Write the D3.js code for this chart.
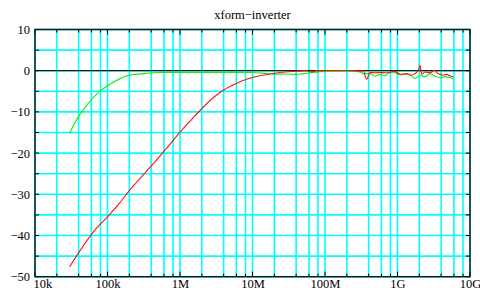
<!DOCTYPE html>
<html>
<head>
<meta charset="utf-8">
<script src="https://cdn.jsdelivr.net/npm/d3@7"></script>
<style>
  body { margin: 0; background: #fff; }
  svg text { font-family: "Liberation Serif", "Times New Roman", Times, serif; font-size: 12.5px; fill: #000; }
</style>
</head>
<body>
<svg id="chart" width="480" height="291"></svg>
<script>
// chart values
const title = "xform\u2212inverter";
const xDecades = [1e4, 1e5, 1e6, 1e7, 1e8, 1e9, 1e10];
const xTickLabels = ["10k", "100k", "1M", "10M", "100M", "1G", "10G"];
const yTickValues = [10, 0, -10, -20, -30, -40, -50];

const redFreq = [3.0e4, 4.2e4, 6.4e4, 9.7e4, 1.41e5, 2.0e5, 3.0e5, 5.0e5, 7.0e5, 1.0e6,
  1.45e6, 1.9e6, 2.9e6, 4.0e6, 6.0e6, 8.3e6, 1.4e7, 2.4e7, 4.0e7, 5.5e7,
  6.4e7, 7.5e7, 1.2e8, 2.0e8, 3.04e8, 3.37e8, 3.76e8, 4.18e8, 4.9e8, 5.74e8,
  6.73e8, 7.89e8, 8.75e8, 1.03e9, 1.1e9, 1.34e9, 1.49e9, 1.74e9, 1.94e9, 2.04e9,
  2.16e9, 2.39e9, 2.81e9, 3.29e9, 3.47e9, 3.85e9, 4.28e9, 4.76e9, 5.29e9, 5.89e9];
const redDb = [-47.6, -43.6, -39.1, -35.7, -32.5, -29.1, -25.6, -21.2, -18.2, -14.9,
  -11.8, -9.6, -6.5, -4.7, -3.1, -2.1, -1.1, -0.45, -0.15, 0.0,
  -0.3, -0.05, 0.05, 0.05, -0.1, -0.05, -2.1, -0.45, -0.5, -0.45,
  -0.5, -0.45, -0.1, -0.6, -1.0, -0.7, -1.1, -0.7, 0.1, 1.3,
  -0.85, -0.3, -0.5, 0.1, -0.45, -0.85, -1.1, -0.9, -1.25, -1.6];

const greenFreq = [3.0e4, 3.96e4, 5.16e4, 6.37e4, 7.88e4, 1.08e5, 1.84e5, 3.12e5, 5.3e5, 1e6,
  3e6, 1e7, 1.5e7, 2.0e7, 3.0e7, 4.0e7, 5.0e7, 6.4e7, 8.0e7, 1.2e8,
  2.0e8, 3.04e8, 3.37e8, 3.76e8, 4.18e8, 4.9e8, 5.74e8, 6.73e8, 7.89e8, 9.25e8,
  1.03e9, 1.27e9, 1.49e9, 1.74e9, 2.04e9, 2.39e9, 2.81e9, 3.29e9, 3.85e9, 4.51e9,
  5.29e9, 5.89e9];
const greenDb = [-15.1, -11.2, -8.4, -6.5, -5.0, -3.3, -1.25, -0.7, -0.45, -0.4,
  -0.4, -0.45, -0.65, -0.85, -0.8, -0.9, -0.7, -0.5, -0.3, -0.1,
  -0.05, -0.3, -0.7, -0.7, -0.7, -1.35, -0.9, -1.2, -0.3, -0.5,
  -0.9, -0.7, -0.9, -1.9, -1.1, -1.5, -0.7, -1.35, -1.65, -1.5,
  -1.65, -2.1];

const fontFamily = '"Liberation Serif", "Times New Roman", Times, serif';

const margin = { top: 29.5, right: 10, bottom: 14.3, left: 35 },
    width = 480 - margin.left - margin.right,
    height = 291 - margin.top - margin.bottom;

const svg = d3.select("#chart");
const g = svg.append("g").attr("transform", `translate(${margin.left}, ${margin.top})`);

const x = d3.scaleLog().domain([1e4, 1e10]).range([0, width]);
const y = d3.scaleLinear().domain([-50, 10]).range([height, 0]);

// grid: 1,2,4,6,8 per decade, every 5 on y
const xGrid = x.ticks().filter(t => {
  const m = Math.round(t / Math.pow(10, Math.floor(Math.log10(t) + 1e-9)));
  return [1, 2, 4, 6, 8].includes(m);
});
const xMinor = xGrid.filter(t => !xDecades.includes(t));

g.append("g").selectAll("line").data(xGrid).join("line")
    .attr("x1", d => x(d)).attr("x2", d => x(d))
    .attr("y1", 0).attr("y2", height)
    .attr("stroke", "#00ffff").attr("stroke-width", 1.6);
g.append("g").selectAll("line").data(y.ticks(12)).join("line")
    .attr("x1", 0).attr("x2", width)
    .attr("y1", d => y(d)).attr("y2", d => y(d))
    .attr("stroke", "#00ffff").attr("stroke-width", 1.6);

// zero line
g.append("line")
    .attr("x1", 0).attr("x2", width)
    .attr("y1", y(0)).attr("y2", y(0))
    .attr("stroke", "#0b1f1f").attr("stroke-width", 1.3);

// inward ticks, top and bottom
function xTicks(sel, vals, len) {
  sel.selectAll(null).data(vals).enter().append("line")
      .attr("x1", d => x(d)).attr("x2", d => x(d))
      .attr("y1", height).attr("y2", height - len)
      .attr("stroke", "#000").attr("stroke-width", 1);
  sel.selectAll(null).data(vals).enter().append("line")
      .attr("x1", d => x(d)).attr("x2", d => x(d))
      .attr("y1", 0).attr("y2", len)
      .attr("stroke", "#000").attr("stroke-width", 1);
}
const tg = g.append("g");
xTicks(tg, xMinor, 3);
xTicks(tg, xDecades, 5);
tg.selectAll(null).data(y.ticks(12)).enter().append("line")
    .attr("x1", 0).attr("x2", 4)
    .attr("y1", d => y(d)).attr("y2", d => y(d))
    .attr("stroke", "#000");
tg.selectAll(null).data(y.ticks(12)).enter().append("line")
    .attr("x1", width).attr("x2", width - 4)
    .attr("y1", d => y(d)).attr("y2", d => y(d))
    .attr("stroke", "#000");

// frame
g.append("rect")
    .attr("x", 0).attr("y", 0).attr("width", width).attr("height", height)
    .attr("fill", "none").attr("stroke", "#0b1f1f").attr("stroke-width", 1.5);

// axis labels
const xAxis = d3.axisBottom(x).tickValues(xDecades).tickSize(0).tickPadding(0)
    .tickFormat((d, i) => xTickLabels[i]);
const xa = g.append("g").attr("transform", `translate(0, ${height})`).call(xAxis)
    .attr("font-family", fontFamily).attr("font-size", 12.5);
xa.select(".domain").remove();
xa.selectAll("text").attr("dy", null).attr("y", 11.5);
// first label sits to the right of the corner, clear of the y labels
xa.selectAll("text").filter((d, i) => i === 0)
    .attr("text-anchor", "start").attr("x", -2);

const yAxis = d3.axisLeft(y).tickValues(yTickValues).tickSize(0).tickPadding(5)
    .tickFormat(d => d < 0 ? "\u2212" + Math.abs(d) : String(d));
const ya = g.append("g").call(yAxis)
    .attr("font-family", fontFamily).attr("font-size", 12.5);
ya.select(".domain").remove();

// title
svg.append("text")
    .attr("x", margin.left + width / 2).attr("y", 19)
    .attr("text-anchor", "middle")
    .text(title);

// curves
const line = d3.line().x(d => x(d[0])).y(d => y(d[1])).curve(d3.curveMonotoneX);
const green = d3.zip(greenFreq, greenDb);
const red = d3.zip(redFreq, redDb);

g.append("path").attr("d", line(green))
    .attr("fill", "none").attr("stroke", "#11ee11").attr("stroke-width", 1.1);
g.append("path").attr("d", line(red))
    .attr("fill", "none").attr("stroke", "#ff1111").attr("stroke-width", 1.1);
</script>
</body>
</html>
